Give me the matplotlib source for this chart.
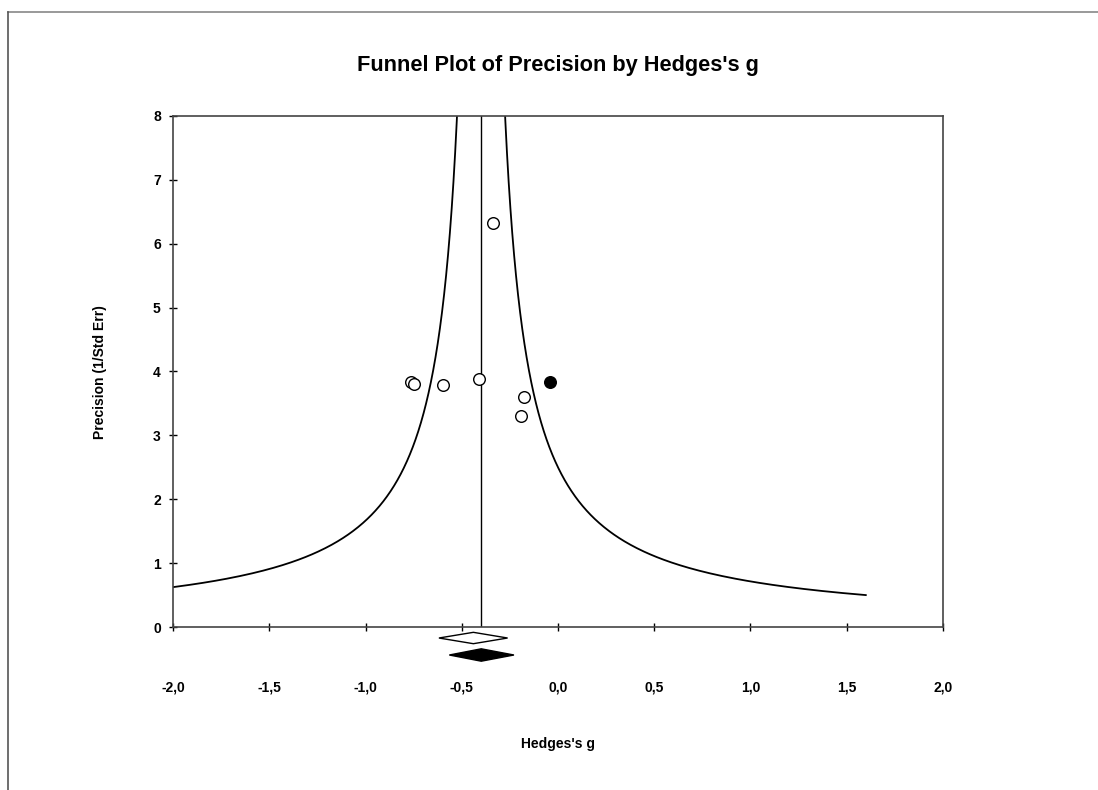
import numpy as np
import matplotlib
matplotlib.use("Agg")
import matplotlib.pyplot as plt
from matplotlib.lines import Line2D

# Data
study_g = [-0.766, -0.750, -0.599, -0.412, -0.175, -0.194, -0.338]
study_prec = [3.83, 3.81, 3.79, 3.89, 3.60, 3.31, 6.32]
imputed_g = [-0.042]
imputed_prec = [3.83]
observed_summary = [-0.619, -0.440, -0.262]   # lower, point, upper
adjusted_summary = [-0.565, -0.399, -0.229]
funnel_center = -0.40
funnel_width = 1.0
xticks = [-2.0, -1.5, -1.0, -0.5, 0.0, 0.5, 1.0, 1.5, 2.0]
yticks = [0, 1, 2, 3, 4, 5, 6, 7, 8]

plt.rcParams['font.family'] = ['Liberation Sans', 'DejaVu Sans']

fig = plt.figure(figsize=(10.98, 7.90), dpi=100)
ax = fig.add_axes([0.1578, 0.2063, 0.7008, 0.6469])

# figure border lines (top and left)
fig.add_artist(Line2D([8/1098, 1], [1 - 11.5/790, 1 - 11.5/790], transform=fig.transFigure,
                      color='#888888', lw=1.2))
fig.add_artist(Line2D([8/1098, 8/1098], [0, 1 - 11.5/790], transform=fig.transFigure,
                      color='#555555', lw=1.2))

# funnel
prec = np.linspace(0.5, 9.0, 800)
ax.plot(funnel_center - funnel_width / prec, prec, color='black', lw=1.3)
ax.plot(funnel_center + funnel_width / prec, prec, color='black', lw=1.3)
ax.axvline(funnel_center, color='black', lw=1.0)

ax.scatter(study_g, study_prec, s=70, facecolors='white', edgecolors='black', linewidths=1.0, zorder=3)
ax.scatter(imputed_g, imputed_prec, s=70, facecolors='black', edgecolors='black', linewidths=1.0, zorder=3)

# summary diamonds below the axis
def diamond(vals, yc, hh, fc):
    lo, pt, hi = vals
    xs = [lo, pt, hi, pt, lo]
    ys = [yc, yc + hh, yc, yc - hh, yc]
    ax.fill(xs, ys, facecolor=fc, edgecolor='black', lw=1.0, clip_on=False, zorder=4)

diamond(observed_summary, -0.172, 0.089, 'white')
diamond(adjusted_summary, -0.438, 0.097, 'black')

ax.set_xlim(-2.0, 2.0)
ax.set_ylim(0, 8)
ax.set_xticks(xticks)
ax.set_xticklabels([f"{t:.1f}".replace('.', ',') for t in xticks], fontsize=10, fontweight='bold')
ax.set_yticks(yticks)
ax.set_yticklabels([str(t) for t in yticks], fontsize=10, fontweight='bold')
ax.tick_params(axis='x', direction='inout', length=6, width=1, pad=35.5)
ax.tick_params(axis='y', direction='inout', length=6, width=1, pad=6)
for sp in ax.spines.values():
    sp.set_color('#444444')
    sp.set_linewidth(1.2)

fig.text(0.5085, 1 - 66/790, "Funnel Plot of Precision by Hedges's g", ha='center', va='center',
         fontsize=15.7, fontweight='bold')
fig.text(0.5085, 1 - 744/790, "Hedges's g", ha='center', va='center', fontsize=10, fontweight='bold')
fig.text(100/1098, 1 - 372/790, "Precision (1/Std Err)", ha='center', va='center', rotation=90,
         fontsize=10, fontweight='bold')

fig.savefig("out.png", dpi=100, facecolor='white')
